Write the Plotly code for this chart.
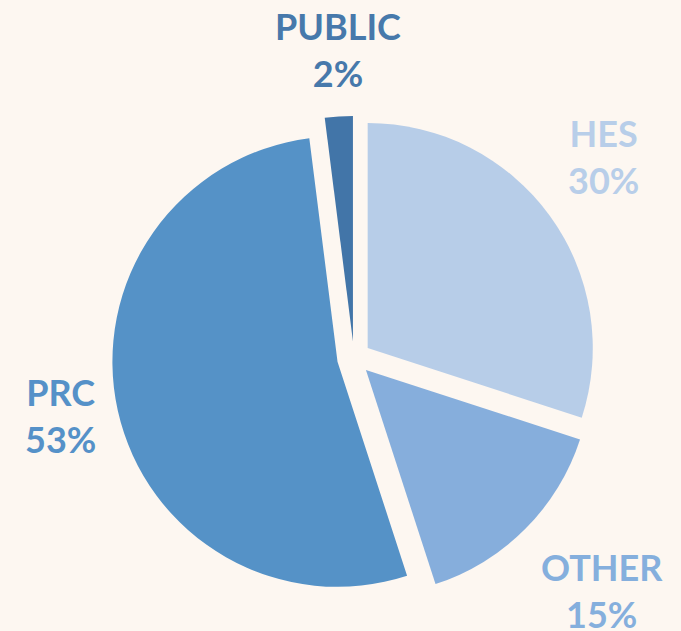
import math
import plotly.graph_objects as go

labels = ["HES", "OTHER", "PRC", "PUBLIC"]
values = [30, 15, 53, 2]
slice_colors = ["#B7CDE8", "#86AEDC", "#5592C7", "#4275A8"]
text_colors = ["#B8CEE9", "#85AFDD", "#5591C8", "#4779AB"]
pull = 0.075

W, H = 681, 631
L, R, T, B = 112, 85, 116, 31
pw, ph = W - L - R, H - T - B
cx, cy = L + pw / 2, T + ph / 2
label_r = 262

fig = go.Figure(go.Pie(
    labels=labels,
    values=values,
    sort=False,
    direction="clockwise",
    rotation=0,
    pull=[pull] * len(values),
    marker=dict(colors=slice_colors, line=dict(width=0)),
    textinfo="none",
    showlegend=False,
    hoverinfo="label+percent",
))

total = sum(values)
cum = 0
for lab, v, col in zip(labels, values, text_colors):
    mid = (cum + v / 2) / total * 2 * math.pi
    cum += v
    dx, dy = math.sin(mid), math.cos(mid)
    px = cx + label_r * dx
    py = cy - label_r * dy
    xa = "left" if dx > 0.3 else ("right" if dx < -0.3 else "center")
    ya = "bottom" if dy > 0.3 else ("top" if dy < -0.3 else "middle")
    fig.add_annotation(
        x=(px - L) / pw, y=1 - (py - T) / ph, xref="paper", yref="paper",
        text=f"<b>{lab}<br>{v}%</b>", showarrow=False, align="center",
        xanchor=xa, yanchor=ya,
        font=dict(family="Lato", size=36, color=col),
    )

fig.update_layout(
    width=W, height=H,
    paper_bgcolor="#FDF7F1",
    plot_bgcolor="#FDF7F1",
    margin=dict(l=L, r=R, t=T, b=B),
    font=dict(family="Lato"),
)

fig.write_html("out.html", config={"displayModeBar": False},
               post_script="document.body.style.margin='0';")
